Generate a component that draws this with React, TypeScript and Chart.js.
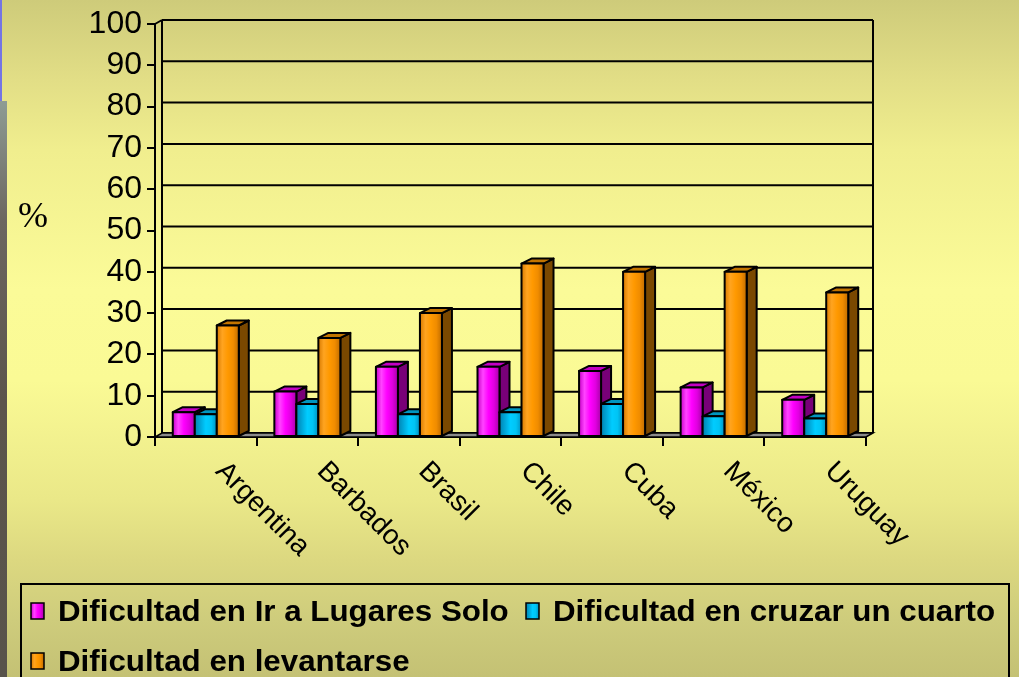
import React, { useEffect, useRef } from "react";
import { Chart, registerables } from "chart.js";

Chart.register(...registerables);

const categories = ["Argentina", "Barbados", "Brasil", "Chile", "Cuba", "México", "Uruguay"];
const irLugaresSolo = [6, 11, 17, 17, 16, 12, 9];
const cruzarCuarto = [5.5, 8, 5.5, 6, 8, 5, 4.5];
const levantarse = [27, 24, 30, 42, 40, 40, 35];
const seriesNames = [
  "Dificultad en Ir a Lugares Solo",
  "Dificultad en cruzar un cuarto",
  "Dificultad en levantarse",
];
const yMin = 0;
const yMax = 100;
const yStep = 10;
const yAxisTitle = "%";

const FONT = "'Liberation Sans', Arial, sans-serif";

const faceStyles = [
  {
    base: "#ff00ff",
    stops: ["#c800c8", "#ff44ff", "#ff00ff", "#e000e0", "#a800a8"],
    top: "#c400c4",
    side: "#780078",
  },
  {
    base: "#00ccff",
    stops: ["#0082b0", "#00a6d8", "#00ccff", "#00c4f4", "#0090c0"],
    top: "#0096c0",
    side: "#006486",
  },
  {
    base: "#ff9900",
    stops: ["#d87a00", "#ffa420", "#ff9900", "#f08c00", "#c06c00"],
    top: "#c27400",
    side: "#7a4800",
  },
];

const DX = 10;
const DY = 5;
const WX = 7;
const WY = 4;

function poly(ctx: CanvasRenderingContext2D, pts: number[][], fill: any) {
  ctx.beginPath();
  ctx.moveTo(pts[0][0], pts[0][1]);
  for (let i = 1; i < pts.length; i++) ctx.lineTo(pts[i][0], pts[i][1]);
  ctx.closePath();
  ctx.fillStyle = fill;
  ctx.fill();
  ctx.stroke();
}

const wallPlugin = {
  id: "walls3d",
  beforeDatasetsDraw(chart: any) {
    const ctx: CanvasRenderingContext2D = chart.ctx;
    const { left, right } = chart.chartArea;
    const ys = chart.scales.y;
    const y0 = ys.getPixelForValue(yMin);
    const yTop = ys.getPixelForValue(yMax);
    ctx.save();
    ctx.strokeStyle = "#000";
    ctx.lineWidth = 2;
    for (let v = yMin; v <= yMax; v += yStep) {
      const py = ys.getPixelForValue(v) - WY;
      ctx.beginPath();
      ctx.moveTo(left + WX, py);
      ctx.lineTo(right + WX, py);
      ctx.stroke();
    }
    ctx.beginPath();
    ctx.moveTo(left + WX, yTop - WY);
    ctx.lineTo(left + WX, y0 - WY);
    ctx.moveTo(right + WX, yTop - WY);
    ctx.lineTo(right + WX, y0 - WY);
    ctx.moveTo(left, yTop);
    ctx.lineTo(left + WX, yTop - WY);
    ctx.stroke();
    ctx.lineWidth = 1.5;
    poly(
      ctx,
      [
        [left, y0],
        [right, y0],
        [right + WX, y0 - WY],
        [left + WX, y0 - WY],
      ],
      "#8a8a8a"
    );
    ctx.restore();
  },
};

const bar3dPlugin = {
  id: "bars3d",
  afterDatasetsDraw(chart: any) {
    const ctx: CanvasRenderingContext2D = chart.ctx;
    const metas = chart.data.datasets.map((_: any, i: number) => chart.getDatasetMeta(i));
    ctx.save();
    ctx.strokeStyle = "#000";
    ctx.lineWidth = 2;
    ctx.lineJoin = "round";
    for (let j = 0; j < categories.length; j++) {
      for (let i = 0; i < metas.length; i++) {
        const el = metas[i].data[j];
        if (!el) continue;
        const { x, y, base, width } = el.getProps(["x", "y", "base", "width"], true);
        const l = x - width / 2;
        const r = x + width / 2;
        const st = faceStyles[i];
        poly(ctx, [[r, y], [r + DX, y - DY], [r + DX, base - DY], [r, base]], st.side);
        poly(ctx, [[l, y], [r, y], [r + DX, y - DY], [l + DX, y - DY]], st.top);
        const g = ctx.createLinearGradient(l, 0, r, 0);
        st.stops.forEach((c, k) => g.addColorStop(k / (st.stops.length - 1), c));
        poly(ctx, [[l, y], [r, y], [r, base], [l, base]], g);
      }
    }
    ctx.restore();
  },
};

const labelsPlugin = {
  id: "extraText",
  afterDraw(chart: any) {
    const ctx: CanvasRenderingContext2D = chart.ctx;
    const xs = chart.scales.x;
    const y0 = chart.chartArea.bottom;
    ctx.save();
    ctx.fillStyle = "#000";
    ctx.font = `28px ${FONT}`;
    ctx.textAlign = "left";
    ctx.textBaseline = "top";
    categories.forEach((c, i) => {
      const px = xs.getPixelForValue(i);
      ctx.save();
      ctx.translate(px + 24, y0 + 20);
      ctx.rotate(Math.PI / 4);
      ctx.fillText(c, 0, 0);
      ctx.restore();
    });
    ctx.font = `36px 'Liberation Serif', 'Times New Roman', serif`;
    ctx.textBaseline = "alphabetic";
    ctx.fillText(yAxisTitle, 18, 227);

    ctx.lineWidth = 2;
    ctx.strokeStyle = "#000";
    ctx.strokeRect(21, 584, 988, 110);
    ctx.font = `bold 29px ${FONT}`;
    const items = [
      { x: 31, y: 621 },
      { x: 526, y: 621 },
      { x: 31, y: 671 },
    ];
    seriesNames.forEach((name, i) => {
      const it = items[i];
      const st = faceStyles[i];
      const g = ctx.createLinearGradient(it.x, 0, it.x + 13, 0);
      st.stops.forEach((c, k) => g.addColorStop(k / (st.stops.length - 1), c));
      ctx.fillStyle = g;
      ctx.fillRect(it.x, it.y - 18, 13, 16);
      ctx.lineWidth = 1.5;
      ctx.strokeRect(it.x, it.y - 18, 13, 16);
      ctx.fillStyle = "#000";
      ctx.save();
      ctx.translate(it.x + 27, it.y);
      ctx.scale(1.08, 1);
      ctx.fillText(name, 0, 0);
      ctx.restore();
    });
    ctx.restore();
  },
};

export default function App() {
  const canvasRef = useRef<HTMLCanvasElement | null>(null);

  useEffect(() => {
    if (!canvasRef.current) return;
    const data = [irLugaresSolo, cruzarCuarto, levantarse];
    const chart = new Chart(canvasRef.current, {
      type: "bar",
      data: {
        labels: categories,
        datasets: data.map((d, i) => ({
          label: seriesNames[i],
          data: d,
          backgroundColor: faceStyles[i].base,
          borderColor: "#000",
          borderWidth: 1,
          barPercentage: 1,
          categoryPercentage: 0.65,
        })),
      },
      options: {
        animation: false,
        responsive: false,
        devicePixelRatio: 1,
        layout: { padding: { left: 0, right: 153, top: 24, bottom: 0 } },
        plugins: {
          legend: { display: false },
          tooltip: { enabled: false },
          title: { display: false },
        },
        scales: {
          x: {
            afterFit(scale: any) {
              scale.height = 240;
            },
            grid: {
              display: true,
              offset: true,
              drawOnChartArea: false,
              drawTicks: true,
              tickLength: 9,
              color: "#000",
              lineWidth: 2,
            },
            border: { display: true, color: "#000", width: 2 },
            ticks: { display: false },
          },
          y: {
            min: yMin,
            max: yMax,
            afterFit(scale: any) {
              scale.width = 155;
            },
            grid: {
              display: true,
              drawOnChartArea: false,
              drawTicks: true,
              tickLength: 8,
              color: "#000",
              lineWidth: 2,
            },
            border: { display: true, color: "#000", width: 2 },
            ticks: {
              stepSize: yStep,
              autoSkip: false,
              color: "#000",
              padding: 5,
              font: { family: FONT, size: 32, lineHeight: 1 },
            },
          },
        },
      },
      plugins: [wallPlugin, bar3dPlugin, labelsPlugin],
    });
    return () => chart.destroy();
  }, []);

  return (
    <div
      style={{
        position: "fixed",
        left: 0,
        top: 0,
        width: 1019,
        height: 677,
        overflow: "hidden",
        background:
          "linear-gradient(to bottom, #cecb7a 0px, #e2de86 80px, #f0ee8e 150px, #fbfb98 290px, #fafa95 380px, #eae888 500px, #dcd880 560px, #cecc7c 620px, #c4c174 677px)",
      }}
    >
      <div style={{ position: "absolute", left: 0, top: 0, width: 2, height: 101, background: "#7474e4" }} />
      <div
        style={{
          position: "absolute",
          left: 0,
          top: 101,
          width: 7,
          height: 576,
          background: "linear-gradient(to bottom, #8e9c94 0px, #6c6660 120px, #5c554c 300px, #58534b 576px)",
        }}
      />
      <canvas ref={canvasRef} width={1019} height={677} style={{ position: "absolute", left: 0, top: 0 }} />
    </div>
  );
}
